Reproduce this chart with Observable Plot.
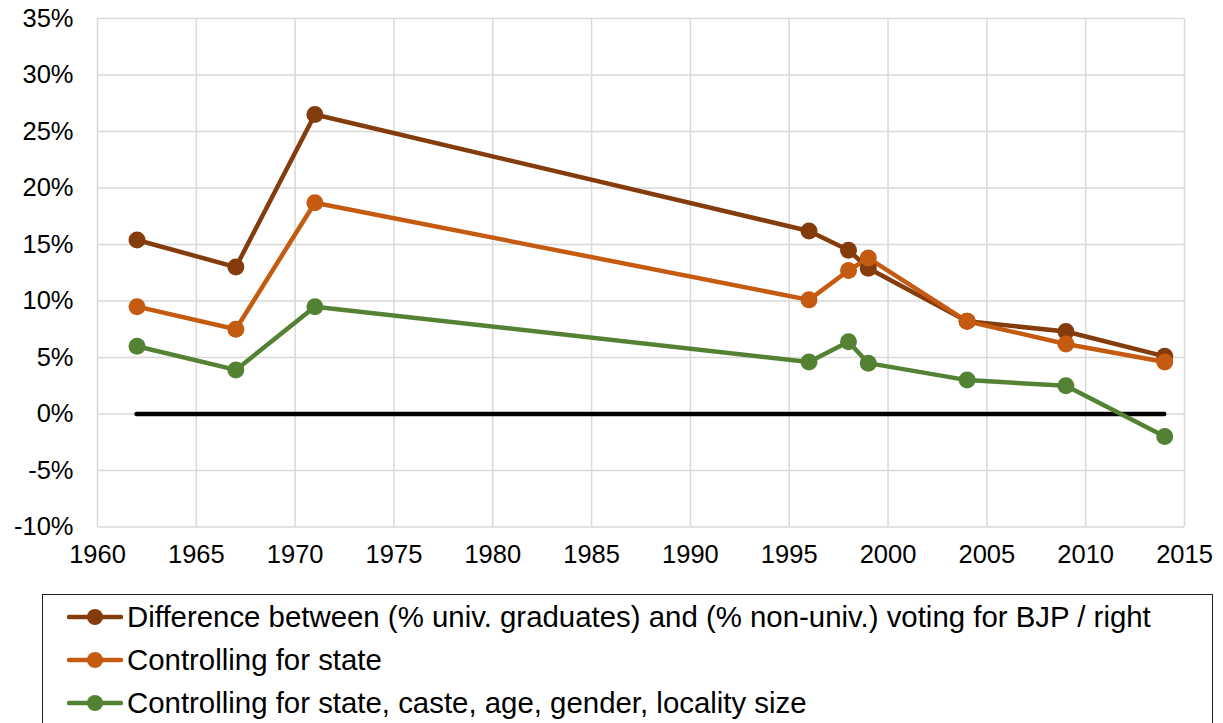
<!DOCTYPE html>
<html>
<head>
<meta charset="utf-8">
<script src="https://cdn.jsdelivr.net/npm/d3@7"></script>
<script src="https://cdn.jsdelivr.net/npm/@observablehq/plot@0.6"></script>
<style>
  body { margin: 0; background: #fff; font-family: "Liberation Sans", Arial, sans-serif; }
  #wrap { position: relative; width: 1223px; height: 723px; overflow: hidden; }
  #legend { position: absolute; left: 42px; top: 594px; width: 1171px; height: 150px; box-sizing: border-box; border: 1.5px solid #222; }
  .row { height: 43px; display: flex; align-items: center; font-size: 29.4px; color: #000; white-space: nowrap; }
  .row svg { margin-left: 24px; margin-right: 4px; flex: none; }
</style>
</head>
<body>
<div id="wrap">
  <div id="chart"></div>
  <div id="legend"></div>
</div>
<script>
const years = [1962, 1967, 1971, 1996, 1998, 1999, 2004, 2009, 2014];
const seriesNames = [
  "Difference between (% univ. graduates) and (% non-univ.) voting for BJP / right",
  "Controlling for state",
  "Controlling for state, caste, age, gender, locality size"
];
const diffValues  = [15.4, 13.0, 26.5, 16.2, 14.5, 12.9, 8.2, 7.3, 5.1];
const stateValues = [9.5, 7.5, 18.7, 10.1, 12.7, 13.8, 8.2, 6.2, 4.6];
const fullValues  = [6.0, 3.9, 9.5, 4.6, 6.4, 4.5, 3.0, 2.5, -2.0];
const colors = ["#843C0C", "#C55A11", "#548235"];
const xTicks = d3.range(1960, 2016, 5);
const yTicks = d3.range(-10, 36, 5);

const allSeries = [diffValues, stateValues, fullValues];
const data = [];
allSeries.forEach((vals, si) => {
  vals.forEach((v, i) => data.push({ year: years[i], value: v, series: seriesNames[si] }));
});

const chart = Plot.plot({
  width: 1223,
  height: 585,
  marginLeft: 97,
  marginRight: 39,
  marginTop: 18,
  marginBottom: 58.5,
  style: { fontFamily: "Liberation Sans, Arial, sans-serif", fontSize: "25.5px", color: "#000", background: "#fff" },
  x: { domain: [1960, 2015], ticks: xTicks, tickFormat: d => String(d), tickSize: 0, tickPadding: 18, label: null },
  y: { domain: [-10, 35], ticks: yTicks, tickFormat: d => d + "%", tickSize: 0, tickPadding: 24, label: null },
  color: { domain: seriesNames, range: colors },
  marks: [
    Plot.gridX(xTicks, { stroke: "#d9d9d9", strokeOpacity: 1, strokeWidth: 1.5 }),
    Plot.gridY(yTicks, { stroke: "#d9d9d9", strokeOpacity: 1, strokeWidth: 1.5 }),
    Plot.ruleY([0], { x1: d3.min(years), x2: d3.max(years), stroke: "#000", strokeWidth: 4.5, strokeLinecap: "round" }),
    Plot.lineY(data, { x: "year", y: "value", stroke: "series", strokeWidth: 4.5, strokeLinejoin: "round", strokeLinecap: "round" }),
    Plot.dot(data, { x: "year", y: "value", fill: "series", r: 8.5 }),
    Plot.axisX({ ticks: xTicks, tickSize: 0, tickPadding: 18, tickFormat: d => String(d), fontSize: 25.5 }),
    Plot.axisY({ ticks: yTicks, tickSize: 0, tickPadding: 24, tickFormat: d => d + "%", fontSize: 25.5 })
  ]
});
document.getElementById("chart").appendChild(chart);

const legend = document.getElementById("legend");
seriesNames.forEach((name, i) => {
  const row = document.createElement("div");
  row.className = "row";
  row.innerHTML = `<svg width="56" height="20"><line x1="2" y1="10" x2="54" y2="10" stroke="${colors[i]}" stroke-width="4.5" stroke-linecap="round"/><circle cx="28" cy="10" r="8" fill="${colors[i]}"/></svg><span>${name}</span>`;
  legend.appendChild(row);
});
</script>
</body>
</html>
